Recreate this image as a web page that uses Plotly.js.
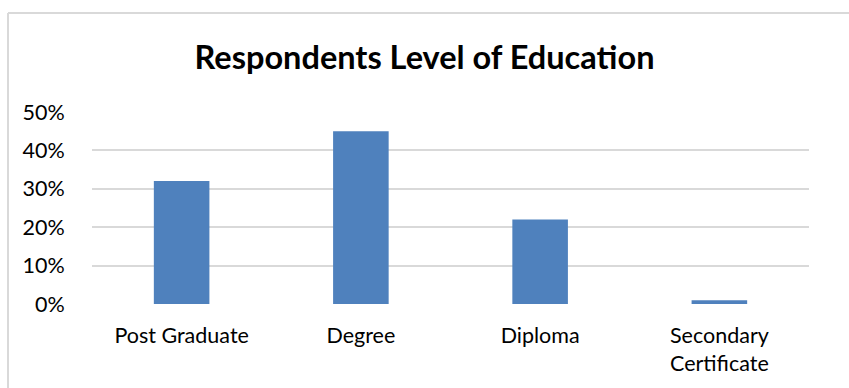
<!DOCTYPE html>
<html>
<head>
<meta charset="utf-8">
<script src="https://cdn.plot.ly/plotly-3.0.1.min.js"></script>
<style>
  html, body { margin: 0; padding: 0; background: #ffffff; }
  #chart { width: 849px; height: 388px; }
</style>
</head>
<body>
<div id="chart"></div>
<script>
const categories = ["Post Graduate", "Degree", "Diploma", "Secondary<br>Certificate"];
const shares = [0.32, 0.45, 0.22, 0.01];
const yTicks = [0, 0.1, 0.2, 0.3, 0.4, 0.5];
const yTickLabels = ["0%", "10%", "20%", "30%", "40%", "50%"];
const chartTitle = "Respondents Level of Education";

const FONT = "Lato, 'Open Sans', sans-serif";

const trace = {
  type: "bar",
  x: categories,
  y: shares,
  marker: { color: "#4f81bd" },
  hoverinfo: "skip"
};

const L = 92, R = 40, T = 112, B = 84;
const W = 849, H = 388;
const pw = W - L - R, ph = H - T - B;
const px = v => (v - L) / pw;
const py = v => (H - B - v) / ph;

const layout = {
  width: W,
  height: H,
  margin: { l: L, r: R, t: T, b: B },
  paper_bgcolor: "#ffffff",
  plot_bgcolor: "#ffffff",
  font: { family: FONT, color: "#000000", size: 21 },
  title: {
    text: "<b>" + chartTitle + "</b>",
    font: { family: FONT, size: 32.5, color: "#000000" },
    x: 0.5, xanchor: "center",
    y: 1 - 58 / H, yanchor: "middle", yref: "container"
  },
  bargap: 0.69,
  showlegend: false,
  xaxis: {
    type: "category",
    showgrid: false,
    zeroline: false,
    showline: false,
    ticks: "outside",
    ticklen: 12,
    tickcolor: "rgba(0,0,0,0)",
    tickfont: { family: FONT, size: 21.5, color: "#000000" },
    fixedrange: true
  },
  yaxis: {
    range: [0, 0.5],
    tickvals: yTicks,
    ticktext: yTickLabels,
    showgrid: true,
    gridcolor: "#d9d9d9",
    gridwidth: 2,
    zeroline: false,
    showline: false,
    ticks: "outside",
    ticklen: 22,
    tickcolor: "rgba(0,0,0,0)",
    tickfont: { family: FONT, size: 21.5, color: "#000000" },
    fixedrange: true
  },
  shapes: [
    { type: "line", xref: "paper", yref: "paper",
      x0: px(8), x1: px(8), y0: py(H + 5), y1: py(13),
      line: { color: "#d9d9d9", width: 2 } },
    { type: "line", xref: "paper", yref: "paper",
      x0: px(8), x1: px(W + 5), y0: py(13), y1: py(13),
      line: { color: "#d9d9d9", width: 2 } }
  ]
};

Plotly.newPlot("chart", [trace], layout, { displayModeBar: false, staticPlot: true });
</script>
</body>
</html>
